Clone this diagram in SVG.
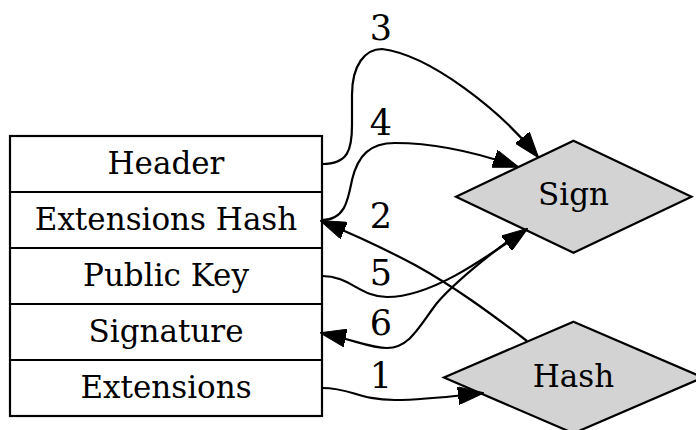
<svg xmlns="http://www.w3.org/2000/svg" width="696" height="430" viewBox="0 0 696 430">
<style>
.t{font-family:"DejaVu Serif","Liberation Serif",serif;font-size:31px;text-anchor:middle;fill:#000}
.l{font-family:"DejaVu Serif","Liberation Serif",serif;font-size:35px;text-anchor:middle;fill:#000}
.box{fill:#fff;stroke:#000;stroke-width:2.2}
.dia{fill:#d3d3d3;stroke:#000;stroke-width:2.2}
.e{fill:none;stroke:#000;stroke-width:2.2;marker-end:url(#ah)}
</style>
<defs>
<marker id="ah" markerUnits="userSpaceOnUse" viewBox="0 0 26 18" refX="25" refY="9" markerWidth="26" markerHeight="18" orient="auto">
<path d="M0,0 L26,9 L0,18 Z" fill="#000" stroke="#000" stroke-width="1"/>
</marker>
</defs>
<rect width="696" height="430" fill="#fff"/>
<g id="record">
<rect class="box" x="10" y="136" width="312" height="280"/>
<line x1="10" y1="192" x2="322" y2="192" stroke="#000" stroke-width="2.2"/>
<line x1="10" y1="248" x2="322" y2="248" stroke="#000" stroke-width="2.2"/>
<line x1="10" y1="304" x2="322" y2="304" stroke="#000" stroke-width="2.2"/>
<line x1="10" y1="360" x2="322" y2="360" stroke="#000" stroke-width="2.2"/>
<text class="t" x="166" y="174">Header</text>
<text class="t" x="166" y="230">Extensions Hash</text>
<text class="t" x="166" y="286">Public Key</text>
<text class="t" x="166" y="342">Signature</text>
<text class="t" x="166" y="398">Extensions</text>
</g>
<g id="sign">
<polygon class="dia" points="573.5,140.7 691.5,196.7 573.5,252.7 456,196.7"/>
<text class="t" x="573.5" y="205">Sign</text>
</g>
<g id="hash">
<polygon class="dia" points="573.5,321.7 703,377.5 573.5,433.3 444,377.5"/>
<text class="t" x="573.5" y="387">Hash</text>
</g>
<g id="edges">
<path class="e" d="M322,388 C352,388 358,400 395,400 C425,400 455,396 483,393"/>
<text class="l" x="381" y="388">1</text>
<path class="e" d="M527,341 C490,313 455,287 415,265 C385,249 355,235 321,221"/>
<text class="l" x="381" y="228">2</text>
<path class="e" d="M322,164 C348,164 352,150 352,125 L352,95 C352,65 365,49 382,49 C430,55 500,110 538,157"/>
<text class="l" x="381" y="40">3</text>
<path class="e" d="M322,220 C345,220 348,200 352,180 C358,155 370,143 395,143 C430,143 470,150 518,167"/>
<text class="l" x="381" y="135">4</text>
<path class="e" d="M322,276 C350,276 360,297 387,297 C430,297 480,262 527,229"/>
<text class="l" x="381" y="285">5</text>
<path class="e" d="M512,238 C480,262 455,282 437,303 C420,325 410,348 387,348 C370,348 355,340 321,333"/>
<text class="l" x="381" y="335">6</text>
</g>
</svg>
